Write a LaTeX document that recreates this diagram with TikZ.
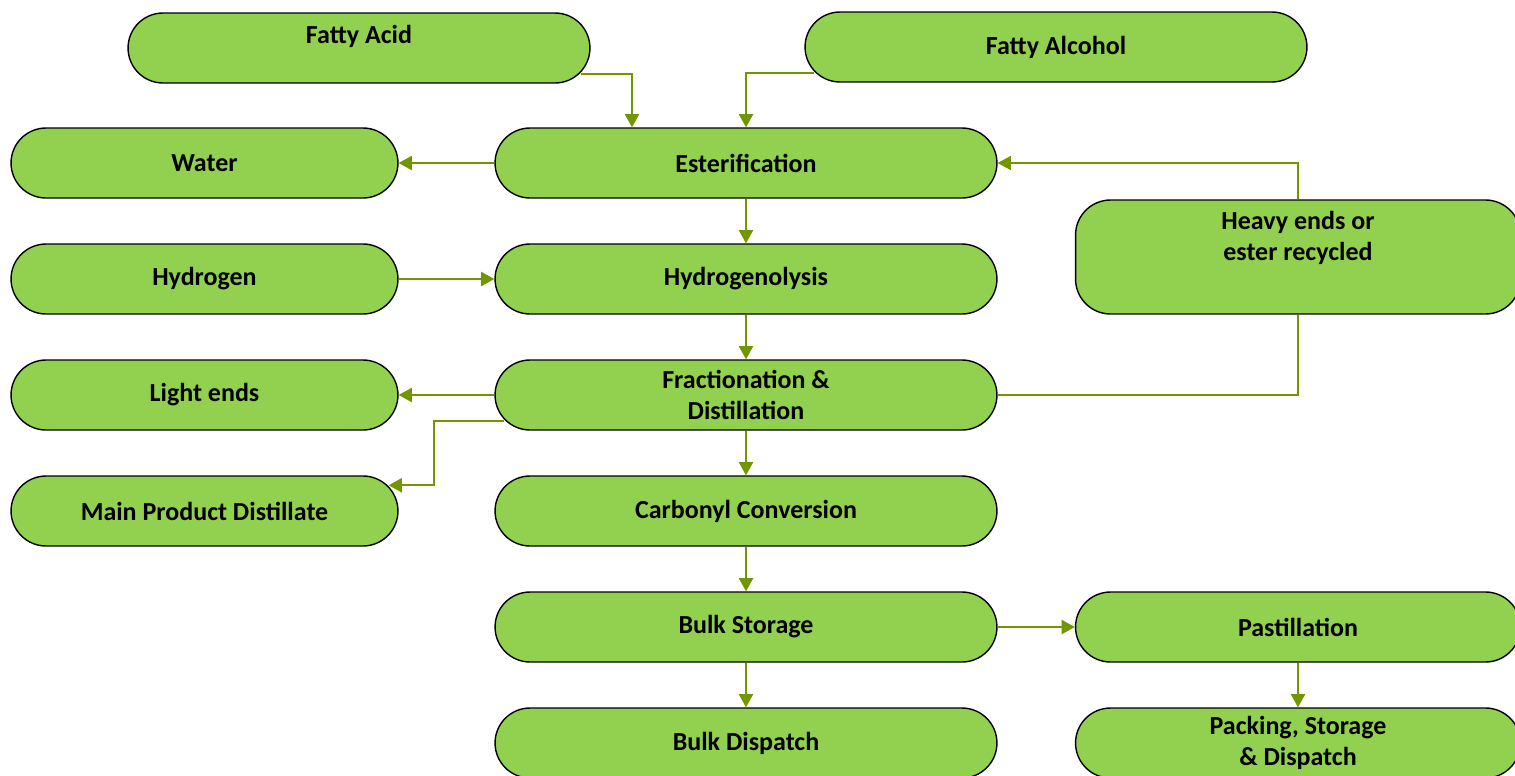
\documentclass[tikz,border=0pt]{standalone}
\usepackage{fontspec}
\setmainfont{Carlito}
\usetikzlibrary{arrows.meta, positioning, calc}
\definecolor{boxgreen}{RGB}{146, 208, 80}
\definecolor{flowline}{RGB}{112, 150, 0}

\begin{document}
\begin{tikzpicture}[x=0.02cm, y=-0.02cm,
    box/.style={rectangle, rounded corners=0.7cm, draw, line width=0.8pt, fill=boxgreen,
                minimum width=10.04cm, minimum height=1.4cm, inner sep=0pt, align=center,
                font=\fontsize{14.8}{17.6}\selectfont\bfseries},
    sidebox/.style={box, minimum width=7.74cm},
    rightbox/.style={box, minimum width=8.9cm},
    flow/.style={-{Triangle[length=7.5pt, width=8pt]}, draw=flowline, line width=1.1pt},
    thinflow/.style={flow, line width=0.6pt}]
    \clip (0,0) rectangle (1515,775);

    % Boxes
    \node[box, minimum width=9.24cm, text depth=16pt] (acid) at (359, 48) {Fatty Acid};
    \node[box] (alcohol) at (1056, 47) {Fatty Alcohol};
    \node[sidebox] (water) at (204.5, 163) {Water};
    \node[box] (ester) at (746, 163) {Esterification};
    \node[rightbox, minimum height=2.28cm, text depth=24pt] (heavy) at (1298, 257) {Heavy ends or\\ester recycled};
    \node[sidebox] (hydrogen) at (204.5, 279) {Hydrogen};
    \node[box] (hydrolysis) at (746, 279) {Hydrogenolysis};
    \node[sidebox] (light) at (204.5, 395) {Light ends};
    \node[box] (frac) at (746, 395) {Fractionation \&\\Distillation};
    \node[sidebox] (mainprod) at (204.5, 511) {Main Product Distillate};
    \node[box] (carbonyl) at (746, 511) {Carbonyl Conversion};
    \node[box] (bulk) at (746, 627) {Bulk Storage};
    \node[rightbox] (pastil) at (1298, 627) {Pastillation};
    \node[box] (dispatch) at (746, 743) {Bulk Dispatch};
    \node[rightbox] (packing) at (1298, 743) {Packing, Storage\\\& Dispatch};

    % Arrows
    \draw[flow] ([shift={(-10,-10)}]acid.south east) -| ([shift={(-114,0)}]ester.north);
    \draw[flow] ([shift={(10,-10)}]alcohol.south west) -| (ester.north);
    \draw[flow] (ester) -- (water);
    \draw[flow] (ester) -- (hydrolysis);
    \draw[flow] (hydrogen) -- (hydrolysis);
    \draw[flow] (hydrolysis) -- (frac);
    \draw[flow] (frac) -- (light);
    \draw[flow] ([shift={(10,-10)}]frac.south west) -- ++(-70,0) |- ([shift={(-10,10)}]mainprod.north east);
    \draw[flow] (frac) -- (carbonyl);
    \draw[flow] (carbonyl) -- (bulk);
    \draw[flow] (bulk) -- (pastil);
    \draw[flow] (bulk) -- (dispatch);
    \draw[flow] (pastil) -- (packing);
    \draw[thinflow, -] (frac.east) -| (heavy.south);
    \draw[thinflow] (heavy.north) |- (ester.east);
\end{tikzpicture}
\end{document}
